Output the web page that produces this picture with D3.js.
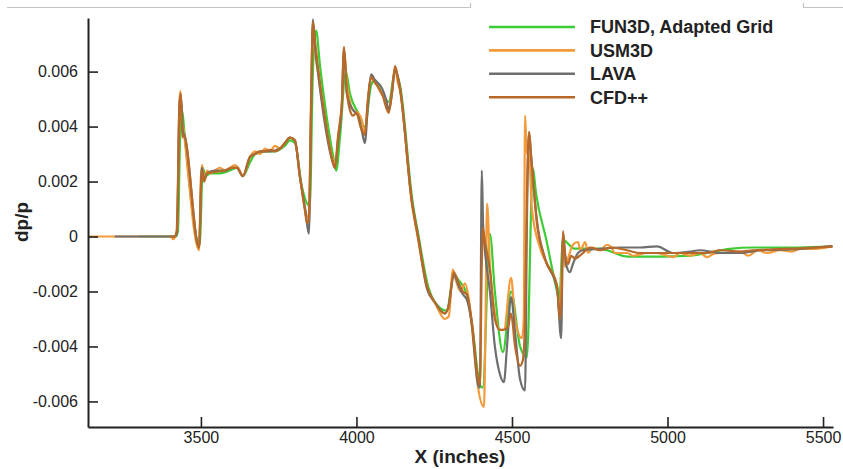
<!DOCTYPE html>
<html>
<head>
<meta charset="utf-8">
<script src="https://d3js.org/d3.v7.min.js"></script>
<style>
  html, body { margin: 0; padding: 0; background: #fff; }
  svg { display: block; font-family: Arial, "Liberation Sans", sans-serif; }
</style>
</head>
<body>
<div id="chart"></div>
<script>

  /**************************************************
   * Data             *
   **************************************************/

  var seriesNames = ['FUN3D, Adapted Grid', 'USM3D', 'LAVA', 'CFD++'];

  // [X (inches), dp/p]
  var fun3d = [
    [3300, 0], [3420, 0], [3426, 0.0002], [3434, 0.0040], [3438, 0.0046], [3442, 0.0044],
    [3447, 0.0038], [3496, -0.0003], [3506, 0.0025], [3515, 0.0022], [3530, 0.0023],
    [3561, 0.0023], [3593, 0.0024], [3616, 0.0025], [3635, 0.0022], [3658, 0.0027],
    [3674, 0.0030], [3706, 0.0031], [3738, 0.0031], [3770, 0.0033], [3786, 0.0035],
    [3802, 0.0034], [3825, 0.0018], [3841, 0.0012], [3850, 0.0011], [3860, 0.0060],
    [3870, 0.0075], [3883, 0.0062], [3924, 0.0030], [3935, 0.0024], [3947, 0.0036],
    [3966, 0.0060], [3979, 0.0052], [4005, 0.0045], [4027, 0.0040], [4047, 0.0055],
    [4059, 0.0057], [4082, 0.0052], [4104, 0.0049], [4124, 0.0060], [4140, 0.0055],
    [4180, 0.0013], [4200, 0.0000], [4230, -0.0018], [4260, -0.0025], [4290, -0.0027],
    [4313, -0.0014], [4329, -0.0016], [4355, -0.0021], [4375, -0.0035], [4397, -0.0054],
    [4406, -0.0055], [4429, 0.0001], [4445, -0.0020], [4471, -0.0042], [4497, -0.0020],
    [4526, -0.0040], [4548, -0.0044], [4567, 0.0025], [4577, 0.0016], [4610, -0.0001],
    [4645, -0.0020], [4652, -0.0023], [4664, -0.0001], [4675, -0.0002], [4700, -0.00044],
    [4783, -0.00044], [4805, -0.0005], [4870, -0.00073], [4966, -0.00073], [5018, -0.00072],
    [5072, -0.0007], [5127, -0.0006], [5200, -0.00045], [5275, -0.0004], [5320, -0.0004],
    [5420, -0.0004], [5530, -0.00036]
  ];

  var usm3d = [
    [3137, 0], [3405, 0], [3410, -0.0001], [3418, 0], [3424, 0.0003], [3430, 0.0046],
    [3434, 0.0053], [3438, 0.0042], [3443, 0.0040], [3447, 0.0036], [3494, -0.0005],
    [3500, 0.0022], [3504, 0.0026], [3510, 0.0021], [3520, 0.0024], [3530, 0.0023],
    [3545, 0.0024], [3561, 0.0025], [3577, 0.0024], [3593, 0.0025], [3610, 0.0026],
    [3620, 0.0025], [3635, 0.0022], [3658, 0.0029], [3674, 0.0031], [3690, 0.0030],
    [3706, 0.0032], [3722, 0.0031], [3738, 0.0033], [3754, 0.0032], [3770, 0.0034],
    [3786, 0.0036], [3802, 0.0035], [3818, 0.0022], [3835, 0.0010], [3841, 0.0007],
    [3847, 0.0008], [3854, 0.0050], [3860, 0.0076], [3866, 0.0068], [3876, 0.0060],
    [3924, 0.0028], [3931, 0.0026], [3941, 0.0037], [3953, 0.0047], [3960, 0.0068],
    [3969, 0.0056], [3979, 0.0049], [3989, 0.0046], [4005, 0.0045], [4018, 0.0042],
    [4027, 0.0037], [4037, 0.0050], [4047, 0.0058], [4059, 0.0057], [4075, 0.0053],
    [4095, 0.0049], [4104, 0.0046], [4114, 0.0053], [4124, 0.0061], [4133, 0.0056],
    [4140, 0.0053], [4178, 0.0012], [4198, -0.0001], [4227, -0.0019], [4252, -0.0024],
    [4284, -0.0030], [4297, -0.0029], [4310, -0.0012], [4320, -0.0016], [4335, -0.0020],
    [4349, -0.0017], [4360, -0.0022], [4371, -0.0033], [4391, -0.0055], [4410, -0.0062],
    [4414, -0.0040], [4420, 0.0012], [4429, -0.0010], [4445, -0.0028], [4461, -0.0034],
    [4474, -0.0034], [4497, -0.0015], [4510, -0.0030], [4532, -0.0037], [4538, -0.0030],
    [4542, 0.0044], [4548, 0.0030], [4555, 0.0030], [4564, 0.0010], [4590, -0.0004],
    [4622, -0.0012], [4645, -0.0018], [4654, -0.0030], [4660, -0.0012], [4664, -0.0002],
    [4670, -0.0011], [4680, -0.0008], [4696, -0.0003], [4712, -0.0002], [4720, -0.0005],
    [4735, -0.0002], [4745, -0.0006], [4760, -0.0004], [4783, -0.0005], [4805, -0.0003],
    [4820, -0.0004], [4830, -0.0006], [4870, -0.0006], [4890, -0.0007], [4934, -0.0006],
    [4966, -0.0006], [5000, -0.0007], [5018, -0.00075], [5040, -0.0006], [5072, -0.0007],
    [5104, -0.0006], [5127, -0.00075], [5150, -0.00062], [5169, -0.0006], [5200, -0.0006],
    [5233, -0.00055], [5260, -0.0007], [5290, -0.0005], [5320, -0.0006], [5362, -0.0005],
    [5400, -0.00055], [5426, -0.00045], [5474, -0.00045], [5530, -0.00035]
  ];

  var lava = [
    [3223, 0], [3415, 0], [3423, 0.0001], [3432, 0.0050], [3437, 0.0050], [3442, 0.0038],
    [3447, 0.0037], [3494, -0.0004], [3503, 0.0025], [3510, 0.0021], [3520, 0.0023],
    [3545, 0.0024], [3577, 0.0024], [3600, 0.0025], [3616, 0.0025], [3635, 0.0022],
    [3658, 0.0029], [3674, 0.0030], [3690, 0.0031], [3722, 0.0031], [3754, 0.0032],
    [3770, 0.0034], [3786, 0.0036], [3802, 0.0035], [3818, 0.0022], [3835, 0.0010],
    [3847, 0.0001], [3854, 0.0045], [3860, 0.0079], [3866, 0.0070], [3876, 0.0060],
    [3924, 0.0027], [3931, 0.0025], [3941, 0.0035], [3953, 0.0048], [3960, 0.0068],
    [3969, 0.0052], [3989, 0.0046], [4005, 0.0044], [4018, 0.0038], [4027, 0.0034],
    [4037, 0.0048], [4047, 0.0059], [4059, 0.0057], [4082, 0.0054], [4095, 0.0050],
    [4104, 0.0046], [4114, 0.0052], [4124, 0.0061], [4133, 0.0058], [4140, 0.0054],
    [4178, 0.0013], [4198, 0.0000], [4227, -0.0019], [4252, -0.0024], [4284, -0.0028],
    [4297, -0.0025], [4313, -0.0014], [4329, -0.0018], [4342, -0.0021], [4355, -0.0023],
    [4371, -0.0032], [4391, -0.0054], [4397, -0.0055], [4403, 0.0024], [4407, 0.0005],
    [4413, -0.0005], [4429, -0.0020], [4445, -0.0040], [4461, -0.0050], [4474, -0.0053],
    [4484, -0.0040], [4497, -0.0022], [4510, -0.0035], [4526, -0.0052], [4542, -0.0056],
    [4548, 0.0005], [4555, 0.0038], [4561, 0.0030], [4580, 0.0006], [4606, -0.0008],
    [4645, -0.0019], [4658, -0.0037], [4664, 0.0001], [4674, -0.0010], [4686, -0.0013],
    [4696, -0.0010], [4712, -0.0006], [4728, -0.0005], [4783, -0.00045], [4850, -0.0004],
    [4912, -0.0004], [4966, -0.00036], [5018, -0.0006], [5072, -0.00055], [5104, -0.0005],
    [5169, -0.0006], [5233, -0.0006], [5300, -0.0005], [5362, -0.00048], [5426, -0.00045],
    [5474, -0.0004], [5530, -0.00035]
  ];

  var cfdpp = [
    [3400, 0], [3415, 0], [3422, 0.0002], [3432, 0.0050], [3436, 0.0052], [3440, 0.0036],
    [3445, 0.0037], [3494, -0.0004], [3503, 0.0024], [3510, 0.0020], [3520, 0.0023],
    [3545, 0.00235], [3577, 0.0024], [3600, 0.0025], [3616, 0.0025], [3635, 0.0022],
    [3658, 0.0029], [3674, 0.0030], [3690, 0.0031], [3706, 0.0031], [3722, 0.00315],
    [3738, 0.0031], [3754, 0.0032], [3770, 0.0034], [3786, 0.0036], [3802, 0.0035],
    [3818, 0.0022], [3835, 0.0009], [3841, 0.0005], [3847, 0.0006], [3854, 0.0045],
    [3860, 0.0078], [3866, 0.0072], [3876, 0.0062], [3899, 0.0043], [3924, 0.0027],
    [3931, 0.0025], [3941, 0.0036], [3947, 0.0042], [3953, 0.0048], [3960, 0.0069],
    [3969, 0.0053], [3979, 0.0046], [3989, 0.0044], [4000, 0.0045], [4013, 0.0040],
    [4027, 0.0037], [4037, 0.0050], [4047, 0.0058], [4059, 0.0056], [4082, 0.0052],
    [4104, 0.0045], [4114, 0.0052], [4124, 0.0062], [4133, 0.0058], [4140, 0.0054],
    [4178, 0.0013], [4198, 0.0000], [4227, -0.0018], [4252, -0.0024], [4284, -0.0028],
    [4297, -0.0025], [4313, -0.0013], [4329, -0.0017], [4342, -0.0020], [4355, -0.0021],
    [4371, -0.0031], [4391, -0.0052], [4397, -0.0054], [4403, -0.0010], [4407, 0.0003],
    [4413, -0.0002], [4429, -0.0012], [4445, -0.0030], [4461, -0.0034], [4471, -0.0034],
    [4487, -0.0033], [4497, -0.0028], [4510, -0.0040], [4526, -0.0047], [4535, -0.0045],
    [4542, -0.0030], [4548, 0.0015], [4555, 0.0038], [4561, 0.0030], [4580, 0.0005],
    [4606, -0.0008], [4645, -0.0018], [4654, -0.0030], [4660, -0.0020], [4664, 0.0002],
    [4670, -0.0006], [4680, -0.0010], [4690, -0.0007], [4703, -0.0008], [4728, -0.0006],
    [4751, -0.0004], [4783, -0.0005], [4820, -0.0004], [4870, -0.0005], [4912, -0.0006],
    [4966, -0.0006], [5018, -0.0006], [5072, -0.0006], [5127, -0.0006], [5169, -0.0005],
    [5233, -0.00055], [5275, -0.0005], [5320, -0.00048], [5362, -0.00045], [5426, -0.00043],
    [5474, -0.0004], [5530, -0.00037]
  ];

  var xMajorTicks = [3500, 4000, 4500, 5000, 5500];
  var yMajorTicks = [-0.006, -0.004, -0.002, 0, 0.002, 0.004, 0.006];

  /**************************************************
   * Setup                                          *
   **************************************************/

  var width = 843,
    height = 469;

  var options = {
    left: 88,
    right: 833,
    top: 18,
    bottom: 427,
    xDomain: [3137, 5532],
    yDomain: [-0.00693, 0.00795],
    colors: ['#3ccc34', '#f39a3a', '#6e6e6e', '#b8692a'],
    axisColor: '#222'
  };

  var allSeries = [fun3d, usm3d, lava, cfdpp];

  var svg = d3.select('#chart').append('svg')
    .attr('width', width)
    .attr('height', height);

  var x = d3.scaleLinear().domain(options.xDomain).range([options.left, options.right]);
  var y = d3.scaleLinear().domain(options.yDomain).range([options.bottom, options.top]);

  function fmtY(d) {
    if (d === 0) return '0';
    return (d < 0 ? '-' : '') + Math.abs(d).toFixed(3);
  }

  // frame remnants along the top edge
  svg.append('path')
    .attr('d', 'M7,7.5H470.5V3 M803.5,3V7.5H843')
    .attr('fill', 'none')
    .attr('stroke', '#c4c4c4')
    .attr('stroke-width', 1.2);

  /**************************************************
   * Lines                                          *
   **************************************************/

  svg.append('clipPath').attr('id', 'plotClip')
    .append('rect')
    .attr('x', options.left)
    .attr('y', options.top - 1)
    .attr('width', options.right - options.left)
    .attr('height', options.bottom - options.top + 1);

  var line = d3.line()
    .x(function(d) { return x(d[0]); })
    .y(function(d) { return y(d[1]); })
    .curve(d3.curveMonotoneX);

  var lineGroup = svg.append('g').attr('clip-path', 'url(#plotClip)');
  allSeries.forEach(function(s, i) {
    lineGroup.append('path')
      .datum(s)
      .attr('d', line)
      .attr('fill', 'none')
      .attr('stroke', options.colors[i])
      .attr('stroke-width', 2.2)
      .attr('stroke-linejoin', 'round');
  });

  /**************************************************
   * Axes                                           *
   **************************************************/

  var xMinor = d3.range(3200, 5501, 100).filter(function(v) { return v % 500 !== 0; });
  var yMinor = d3.range(-13, 16).map(function(k) { return k * 0.0005; })
    .filter(function(v) { return Math.abs(Math.round(v * 1e4)) % 20 !== 0; });

  var xAxisG = svg.append('g').attr('transform', 'translate(0,' + options.bottom + ')');
  xAxisG.call(d3.axisBottom(x).tickValues(xMinor).tickSize(-5).tickSizeOuter(0).tickFormat(''));
  xAxisG.call(d3.axisBottom(x).tickValues(xMajorTicks).tickSize(-10).tickSizeOuter(0).tickPadding(5)
    .tickFormat(d3.format('d')));

  var yAxisG = svg.append('g').attr('transform', 'translate(' + options.left + ',0)');
  yAxisG.call(d3.axisLeft(y).tickValues(yMinor).tickSize(-5).tickSizeOuter(0).tickFormat(''));
  yAxisG.call(d3.axisLeft(y).tickValues(yMajorTicks).tickSize(-10).tickSizeOuter(0).tickPadding(10)
    .tickFormat(fmtY));

  svg.selectAll('.domain, .tick line')
    .attr('stroke', options.axisColor)
    .attr('stroke-width', 2);
  svg.selectAll('.tick line').attr('stroke-width', 1.6);
  svg.selectAll('.tick text')
    .attr('fill', '#222')
    .style('font-size', '16px');

  svg.append('text')
    .attr('x', 460)
    .attr('y', 463)
    .attr('text-anchor', 'middle')
    .style('font-size', '19px')
    .style('font-weight', 'bold')
    .attr('fill', '#222')
    .text('X (inches)');

  svg.append('text')
    .attr('transform', 'translate(28,222) rotate(-90)')
    .attr('text-anchor', 'middle')
    .style('font-size', '19px')
    .style('font-weight', 'bold')
    .attr('fill', '#222')
    .text('dp/p');

  /**************************************************
   * Legend                                         *
   **************************************************/

  var legend = svg.append('g').attr('transform', 'translate(489,27)');
  seriesNames.forEach(function(name, i) {
    var row = legend.append('g').attr('transform', 'translate(0,' + (i * 23.4) + ')');
    row.append('line')
      .attr('x1', 0).attr('x2', 86)
      .attr('stroke', options.colors[i])
      .attr('stroke-width', 2.6);
    row.append('text')
      .attr('x', 101)
      .attr('dy', '0.36em')
      .style('font-size', '18px')
      .style('font-weight', 'bold')
      .attr('fill', '#222')
      .text(name);
  });

</script>
</body>
</html>
